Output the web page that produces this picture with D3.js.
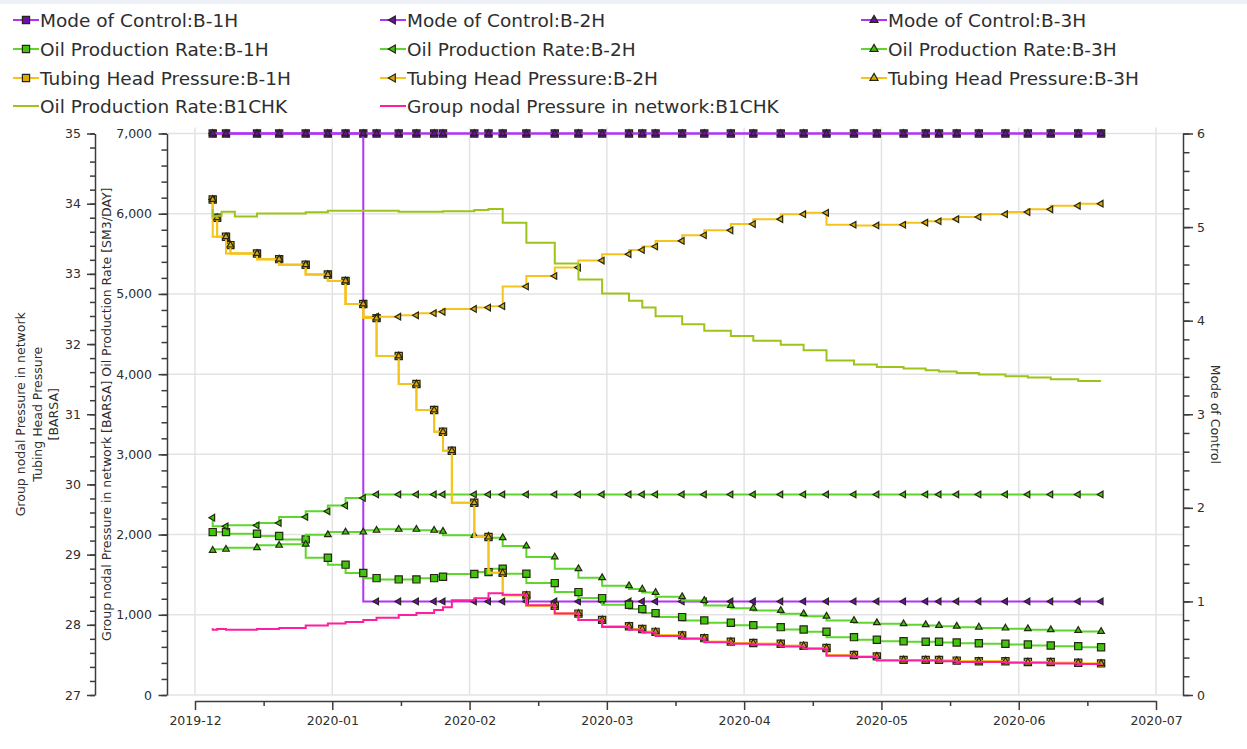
<!DOCTYPE html>
<html>
<head>
<meta charset="utf-8">
<script src="https://cdn.jsdelivr.net/npm/d3@7"></script>
<style>
body { margin: 0; background: #fff; }
svg { display: block; font-family: "DejaVu Sans", Verdana, sans-serif; }
</style>
</head>
<body>
<svg id="chart" width="1247" height="749"></svg>
<script>
// ---- data ----
var monthStarts = ["2019-12-01", "2020-01-01", "2020-02-01", "2020-03-01", "2020-04-01", "2020-05-01", "2020-06-01", "2020-07-01"];

var reportDates = ["2019-12-05", "2019-12-08", "2019-12-15", "2019-12-20", "2019-12-26", "2019-12-31",
    "2020-01-04", "2020-01-08", "2020-01-11", "2020-01-16", "2020-01-20", "2020-01-24", "2020-01-26",
    "2020-02-02", "2020-02-05", "2020-02-08", "2020-02-13", "2020-02-19", "2020-02-24", "2020-02-29",
    "2020-03-06", "2020-03-09", "2020-03-12", "2020-03-18", "2020-03-23", "2020-03-29",
    "2020-04-03", "2020-04-09", "2020-04-14", "2020-04-19", "2020-04-25", "2020-04-30",
    "2020-05-06", "2020-05-11", "2020-05-14", "2020-05-18", "2020-05-23", "2020-05-29",
    "2020-06-03", "2020-06-08", "2020-06-14", "2020-06-19"];

var modeB1 = [6, 6, 6, 6, 6, 6, 6, 6, 6, 6, 6, 6, 6, 6, 6, 6, 6, 6, 6, 6, 6, 6, 6, 6, 6, 6, 6, 6, 6, 6, 6, 6, 6, 6, 6, 6, 6, 6, 6, 6, 6, 6];
var modeB2 = [6, 6, 6, 6, 6, 6, 6, 6, 1, 1, 1, 1, 1, 1, 1, 1, 1, 1, 1, 1, 1, 1, 1, 1, 1, 1, 1, 1, 1, 1, 1, 1, 1, 1, 1, 1, 1, 1, 1, 1, 1, 1];
var modeB3 = [6, 6, 6, 6, 6, 6, 6, 6, 6, 6, 6, 6, 6, 6, 6, 6, 6, 6, 6, 6, 6, 6, 6, 6, 6, 6, 6, 6, 6, 6, 6, 6, 6, 6, 6, 6, 6, 6, 6, 6, 6, 6];

var oilB1 = [2031, 2031, 2011, 1982, 1940, 1712, 1625, 1520, 1457, 1441, 1441, 1457, 1475,
    1508, 1532, 1575, 1512, 1395, 1283, 1208, 1125, 1071, 1021, 971, 930, 901,
    871, 846, 817, 789, 721, 689, 671, 664, 664, 655, 646, 639, 630, 618, 609, 596];
var oilB2 = [2211, 2103, 2115, 2144, 2219, 2290, 2361, 2456, 2500, 2500, 2500, 2500, 2500,
    2500, 2500, 2500, 2500, 2500, 2500, 2500, 2500, 2500, 2500, 2500, 2500, 2500,
    2500, 2500, 2500, 2500, 2500, 2500, 2500, 2500, 2500, 2500, 2500, 2500, 2500, 2500, 2500, 2500];
var oilB3 = [1803, 1816, 1837, 1866, 1879, 1999, 2031, 2031, 2053, 2065, 2065, 2053, 2040,
    1990, 1978, 1961, 1857, 1720, 1575, 1462, 1362, 1320, 1279, 1225, 1179, 1117,
    1083, 1054, 1013, 983, 930, 901, 888, 876, 867, 858, 846, 834, 826, 814, 805, 792];

var thpB2 = [34.06, 33.53, 33.29, 33.21, 33.13, 32.99, 32.90, 32.57, 32.39, 32.39, 32.41, 32.44, 32.46,
    32.50, 32.52, 32.54, 32.82, 32.97, 33.09, 33.19, 33.28, 33.34, 33.39, 33.47, 33.55, 33.62,
    33.71, 33.78, 33.85, 33.87, 33.70, 33.69, 33.70, 33.73, 33.75, 33.78, 33.81, 33.85,
    33.88, 33.92, 33.97, 34.00];

// B-1H / B-3H THP have a few extra report points
var thpDates = ["2019-12-05", "2019-12-06", "2019-12-08", "2019-12-09", "2019-12-15", "2019-12-20", "2019-12-26", "2019-12-31",
    "2020-01-04", "2020-01-08", "2020-01-11", "2020-01-16", "2020-01-20", "2020-01-24", "2020-01-26", "2020-01-28",
    "2020-02-02", "2020-02-05", "2020-02-08", "2020-02-13", "2020-02-19", "2020-02-24", "2020-02-29",
    "2020-03-06", "2020-03-09", "2020-03-12", "2020-03-18", "2020-03-23", "2020-03-29",
    "2020-04-03", "2020-04-09", "2020-04-14", "2020-04-19", "2020-04-25", "2020-04-30",
    "2020-05-06", "2020-05-11", "2020-05-14", "2020-05-18", "2020-05-23", "2020-05-29",
    "2020-06-03", "2020-06-08", "2020-06-14", "2020-06-19"];
var thpB1 = [34.06, 33.80, 33.53, 33.41, 33.29, 33.21, 33.13, 32.99,
    32.90, 32.57, 32.37, 31.83, 31.43, 31.06, 30.75, 30.48,
    29.74, 29.25, 28.74, 28.42, 28.27, 28.16, 28.07,
    27.98, 27.94, 27.90, 27.85, 27.81, 27.76, 27.74, 27.73, 27.70, 27.67, 27.57, 27.55,
    27.50, 27.50, 27.50, 27.49, 27.48, 27.48, 27.47, 27.47, 27.46, 27.45];
var thpB3 = [34.06, 33.80, 33.53, 33.41, 33.29, 33.21, 33.13, 32.99,
    32.90, 32.57, 32.37, 31.83, 31.43, 31.06, 30.75, 30.48,
    29.74, 29.25, 28.74, 28.42, 28.27, 28.16, 28.07,
    27.98, 27.94, 27.90, 27.85, 27.81, 27.76, 27.74, 27.73, 27.70, 27.67, 27.57, 27.55,
    27.50, 27.50, 27.50, 27.49, 27.48, 27.48, 27.47, 27.47, 27.46, 27.45];

var chkDates = ["2019-12-05", "2019-12-06", "2019-12-07", "2019-12-10", "2019-12-15", "2019-12-26", "2019-12-31",
    "2020-01-16", "2020-01-26", "2020-02-02", "2020-02-05", "2020-02-08", "2020-02-13", "2020-02-19", "2020-02-24", "2020-02-29",
    "2020-03-06", "2020-03-09", "2020-03-12", "2020-03-18", "2020-03-23", "2020-03-29",
    "2020-04-03", "2020-04-09", "2020-04-14", "2020-04-19", "2020-04-25", "2020-04-30",
    "2020-05-06", "2020-05-11", "2020-05-14", "2020-05-18", "2020-05-23", "2020-05-29",
    "2020-06-03", "2020-06-08", "2020-06-14", "2020-06-19"];
var chkOil = [6060, 5965, 5975, 6025, 5965, 6004, 6017, 6037, 6024, 6030, 6046, 6058, 5887, 5637, 5380, 5181,
    5006, 4914, 4831, 4723, 4623, 4540, 4477, 4415, 4365, 4299, 4170, 4120,
    4090, 4070, 4049, 4033, 4015, 3995, 3974, 3958, 3937, 3916];

var nodeDates = ["2019-12-05", "2019-12-06", "2019-12-08", "2019-12-15", "2019-12-20", "2019-12-26", "2019-12-31",
    "2020-01-04", "2020-01-08", "2020-01-11", "2020-01-16", "2020-01-20", "2020-01-24", "2020-01-26", "2020-01-28",
    "2020-02-02", "2020-02-05", "2020-02-08", "2020-02-13", "2020-02-19", "2020-02-24", "2020-02-29",
    "2020-03-06", "2020-03-09", "2020-03-12", "2020-03-18", "2020-03-23", "2020-03-29",
    "2020-04-03", "2020-04-09", "2020-04-14", "2020-04-19", "2020-04-25", "2020-04-30",
    "2020-05-06", "2020-05-11", "2020-05-14", "2020-05-18", "2020-05-23", "2020-05-29",
    "2020-06-03", "2020-06-08", "2020-06-14", "2020-06-19"];
var nodeP = [27.95, 27.93, 27.94, 27.93, 27.94, 27.955, 27.99, 28.02, 28.04, 28.07, 28.10, 28.14, 28.17, 28.21, 28.25,
    28.35, 28.38, 28.45, 28.43, 28.28, 28.16, 28.07,
    27.97, 27.93, 27.89, 27.84, 27.80, 27.75, 27.73, 27.72, 27.69, 27.66, 27.56, 27.54,
    27.49, 27.49, 27.49, 27.48, 27.47, 27.47, 27.46, 27.46, 27.45, 27.44];

var pressureTicks = [27, 28, 29, 30, 31, 32, 33, 34, 35];
var oilTicks = [0, 1000, 2000, 3000, 4000, 5000, 6000, 7000];
var modeTicks = [0, 1, 2, 3, 4, 5, 6];

// ---- layout ----
var svg = d3.select("#chart"),
    width = +svg.attr("width"),
    plotTop = 133.5,
    plotBottom = 695,
    plotLeft = 167,
    plotRight = 1183,
    xStart = 195,
    xEnd = 1156,
    axisColor = "#3c3c3c",
    textColor = "#2e2e2e";

svg.append("rect").attr("width", width).attr("height", 4).attr("fill", "#eef0f7");

var parse = d3.timeParse("%Y-%m-%d");
var months = monthStarts.map(parse);

// months are drawn evenly spaced, so the time scale is piecewise
var x = d3.scaleTime()
    .domain(months)
    .range(months.map(function (d, i) { return xStart + i * (xEnd - xStart) / (months.length - 1); }));

var yP = d3.scaleLinear().domain([27, 35]).range([plotBottom, plotTop]);
var yQ = d3.scaleLinear().domain([0, 7000]).range([plotBottom, plotTop]);
var yM = d3.scaleLinear().domain([0, 6]).range([plotBottom, plotTop]);

// grid
var grid = svg.append("g");
grid.selectAll(".vgrid")
    .data(months)
    .enter().append("line")
    .attr("x1", function (d) { return x(d); })
    .attr("x2", function (d) { return x(d); })
    .attr("y1", plotTop - 6)
    .attr("y2", plotBottom)
    .attr("stroke", "#e3e3e3")
    .attr("stroke-width", 1.5);
grid.selectAll(".hgrid")
    .data(oilTicks)
    .enter().append("line")
    .attr("x1", plotLeft)
    .attr("x2", plotRight)
    .attr("y1", function (d) { return yQ(d); })
    .attr("y2", function (d) { return yQ(d); })
    .attr("stroke", "#e3e3e3")
    .attr("stroke-width", 1.5);

function styleAxis(g, size) {
    g.attr("font-family", null).attr("font-size", null);
    g.select(".domain").attr("stroke", axisColor).attr("stroke-width", 1.5);
    g.selectAll(".tick line").attr("stroke", axisColor).attr("stroke-width", 1.5);
    g.selectAll(".tick text").attr("fill", textColor).style("font-size", size || "12.5px");
}

function minorAxis(axis, pos, values, size) {
    var g = svg.append("g")
        .attr("transform", pos)
        .call(axis.tickValues(values).tickSize(size).tickSizeOuter(0).tickFormat(""));
    g.select(".domain").remove();
    g.selectAll(".tick line").attr("stroke", axisColor).attr("stroke-width", 1.5);
}

// pressure axis (outer left)
minorAxis(d3.axisLeft(yP), "translate(95,0)", d3.range(27, 35.001, 0.2), 5);
svg.append("g")
    .attr("transform", "translate(95,0)")
    .call(d3.axisLeft(yP).tickValues(pressureTicks).tickSize(8).tickSizeOuter(0).tickPadding(6).tickFormat(d3.format("d")))
    .call(styleAxis);

// oil rate axis (inner left)
minorAxis(d3.axisLeft(yQ), "translate(167,0)", d3.range(0, 7001, 200), 5.5);
svg.append("g")
    .attr("transform", "translate(167,0)")
    .call(d3.axisLeft(yQ).tickValues(oilTicks).tickSize(8.5).tickSizeOuter(0).tickPadding(6.5).tickFormat(d3.format(",")))
    .call(styleAxis);

// mode of control axis (right)
minorAxis(d3.axisRight(yM), "translate(" + plotRight + ",0)", d3.range(0, 6.001, 0.2), 6.5);
svg.append("g")
    .attr("transform", "translate(" + plotRight + ",0)")
    .call(d3.axisRight(yM).tickValues(modeTicks).tickSize(10).tickSizeOuter(0).tickPadding(4).tickFormat(d3.format("d")))
    .call(styleAxis);

// time axis
var midMonths = d3.pairs(months).map(function (p) { return x.invert((x(p[0]) + x(p[1])) / 2); });
minorAxis(d3.axisBottom(x), "translate(0,701)", midMonths, 5);
svg.append("g")
    .attr("transform", "translate(0,701)")
    .call(d3.axisBottom(x).tickValues(months).tickSize(9).tickSizeOuter(0).tickPadding(6).tickFormat(d3.timeFormat("%Y-%m")))
    .call(styleAxis);

// axis titles
var midY = (plotTop + plotBottom) / 2;
var leftTitle = ["Group nodal Pressure in network", "Tubing Head Pressure", "[BARSA]"];
svg.selectAll(".ltitle")
    .data(leftTitle)
    .enter().append("text")
    .attr("transform", function (d, i) { return "translate(" + (21 + i * 16.5) + "," + midY + ") rotate(-90)"; })
    .attr("text-anchor", "middle")
    .attr("dy", "0.35em")
    .attr("fill", textColor)
    .style("font-size", "12.5px")
    .text(function (d) { return d; });

svg.append("text")
    .attr("transform", "translate(107," + midY + ") rotate(-90)")
    .attr("text-anchor", "middle")
    .attr("dy", "0.35em")
    .attr("fill", textColor)
    .style("font-size", "12.5px")
    .text("Group nodal Pressure in network [BARSA] Oil Production Rate [SM3/DAY]");

svg.append("text")
    .attr("transform", "translate(1215," + midY + ") rotate(90)")
    .attr("text-anchor", "middle")
    .attr("dy", "0.35em")
    .attr("fill", textColor)
    .style("font-size", "12.5px")
    .text("Mode of Control");

// ---- series ----
var purple = "#b233f5", purpleFill = "#6a0eb0";
var green = "#5ed62c", greenFill = "#42c40c";
var gold = "#f5c41c", goldFill = "#dcaa08";

var series = [
    { name: "Mode of Control:B-1H", dates: reportDates, values: modeB1, y: yM, color: purple, fill: purpleFill, shape: "square" },
    { name: "Mode of Control:B-2H", dates: reportDates, values: modeB2, y: yM, color: purple, fill: purpleFill, shape: "left" },
    { name: "Mode of Control:B-3H", dates: reportDates, values: modeB3, y: yM, color: purple, fill: purpleFill, shape: "up" },
    { name: "Oil Production Rate:B-1H", dates: reportDates, values: oilB1, y: yQ, color: green, fill: greenFill, shape: "square" },
    { name: "Oil Production Rate:B-2H", dates: reportDates, values: oilB2, y: yQ, color: green, fill: greenFill, shape: "left" },
    { name: "Oil Production Rate:B-3H", dates: reportDates, values: oilB3, y: yQ, color: green, fill: greenFill, shape: "up" },
    { name: "Tubing Head Pressure:B-1H", dates: thpDates, values: thpB1, y: yP, color: gold, fill: goldFill, shape: "square" },
    { name: "Tubing Head Pressure:B-2H", dates: reportDates, values: thpB2, y: yP, color: gold, fill: goldFill, shape: "left" },
    { name: "Tubing Head Pressure:B-3H", dates: thpDates, values: thpB3, y: yP, color: gold, fill: goldFill, shape: "up" },
    { name: "Oil Production Rate:B1CHK", dates: chkDates, values: chkOil, y: yQ, color: "#9ec41c", fill: null, shape: null },
    { name: "Group nodal Pressure in network:B1CHK", dates: nodeDates, values: nodeP, y: yP, color: "#ff1f9e", fill: null, shape: null }
];

var squareSym = d3.symbol().type(d3.symbolSquare).size(52);
var triSym = d3.symbol().type(d3.symbolTriangle).size(19);

function markerPath(shape) {
    return shape === "square" ? squareSym() : triSym();
}
function markerRotate(shape) {
    return shape === "left" ? " rotate(-90)" : "";
}

var plot = svg.append("g");

series.forEach(function (s) {
    var pts = s.dates.map(function (dt, i) { return { date: parse(dt), value: s.values[i] }; });
    var line = d3.line()
        .curve(d3.curveStepBefore)
        .x(function (d) { return x(d.date); })
        .y(function (d) { return s.y(d.value); });

    plot.append("path")
        .datum(pts)
        .attr("d", line)
        .attr("fill", "none")
        .attr("stroke", s.color)
        .attr("stroke-width", 2);

    if (s.shape) {
        plot.append("g").selectAll("path")
            .data(pts)
            .enter().append("path")
            .attr("transform", function (d) {
                return "translate(" + x(d.date) + "," + s.y(d.value) + ")" + markerRotate(s.shape);
            })
            .attr("d", markerPath(s.shape))
            .attr("fill", s.fill)
            .attr("stroke", "#262614")
            .attr("stroke-width", 1.2);
    }
});

// ---- legend ----
var legendRows = [20, 49, 78, 106];
var legendCols = [13, 380, 861];

var legend = svg.append("g").selectAll("g")
    .data(series)
    .enter().append("g")
    .attr("transform", function (d, i) {
        return "translate(" + legendCols[i % 3] + "," + legendRows[Math.floor(i / 3)] + ")";
    });

legend.append("line")
    .attr("x1", 0)
    .attr("x2", 26)
    .attr("stroke", function (d) { return d.color; })
    .attr("stroke-width", 2);

legend.filter(function (d) { return d.shape; })
    .append("path")
    .attr("transform", function (d) { return "translate(13,0)" + markerRotate(d.shape); })
    .attr("d", function (d) { return d.shape === "square" ? squareSym() : d3.symbol().type(d3.symbolTriangle).size(28)(); })
    .attr("fill", function (d) { return d.fill; })
    .attr("stroke", "#262614")
    .attr("stroke-width", 1.2);

legend.append("text")
    .attr("x", 27)
    .attr("dy", "0.36em")
    .attr("fill", textColor)
    .style("font-size", "18.5px")
    .text(function (d) { return d.name; });
</script>
</body>
</html>
